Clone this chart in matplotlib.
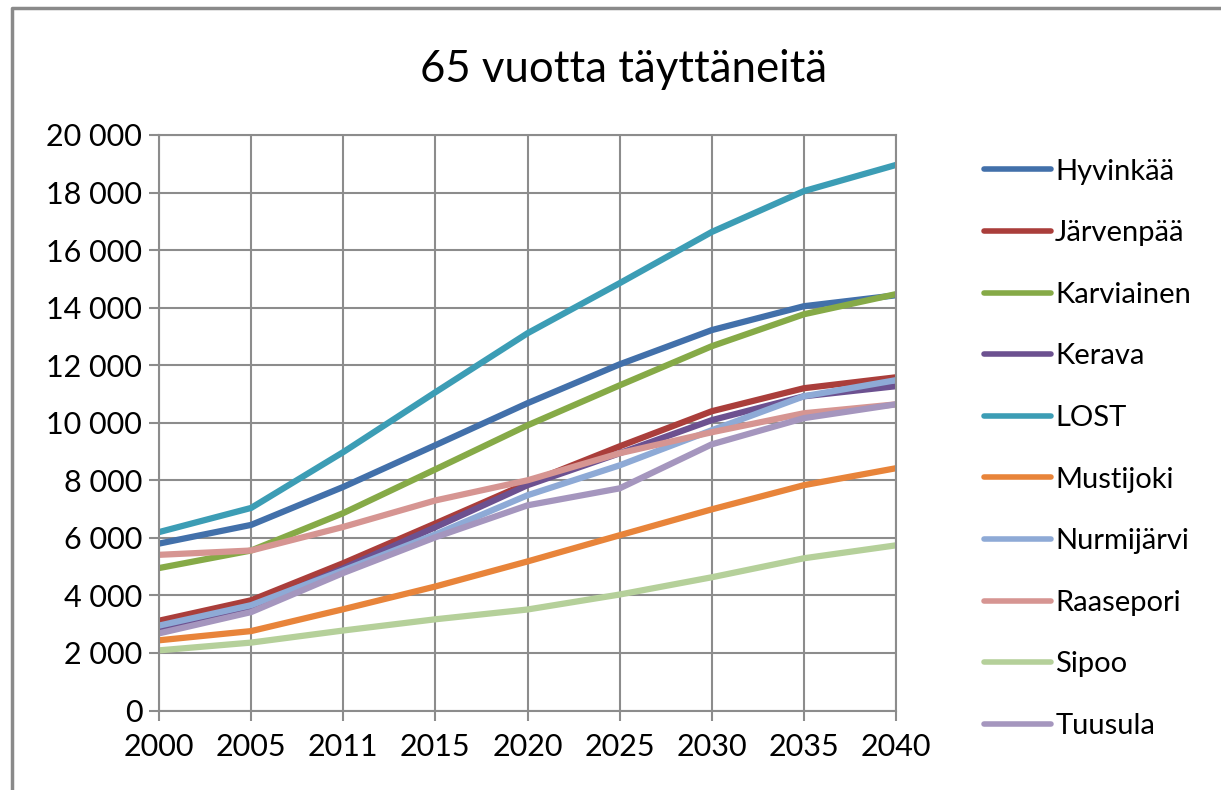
import matplotlib
matplotlib.use('Agg')
import matplotlib.pyplot as plt
from matplotlib.lines import Line2D
from matplotlib.ticker import FuncFormatter, MultipleLocator

years = ['2000', '2005', '2011', '2015', '2020', '2025', '2030', '2035', '2040']

hyvinkaa = [5800, 6450, 7770, 9220, 10680, 12030, 13220, 14050, 14430]
jarvenpaa = [3120, 3830, 5120, 6500, 7900, 9180, 10400, 11200, 11580]
karviainen = [4950, 5560, 6860, 8380, 9910, 11300, 12660, 13770, 14470]
kerava = [2820, 3580, 4940, 6370, 7830, 8940, 10090, 10920, 11270]
lost = [6200, 7040, 8980, 11060, 13110, 14850, 16630, 18050, 18960]
mustijoki = [2440, 2760, 3520, 4310, 5180, 6090, 6990, 7830, 8420]
nurmijarvi = [2950, 3660, 4870, 6120, 7480, 8520, 9740, 10920, 11480]
raasepori = [5410, 5560, 6380, 7300, 8000, 8940, 9670, 10330, 10640]
sipoo = [2090, 2360, 2780, 3170, 3510, 4030, 4630, 5290, 5740]
tuusula = [2680, 3420, 4780, 6020, 7130, 7720, 9250, 10160, 10640]

names = ['Hyvinkää', 'Järvenpää', 'Karviainen', 'Kerava', 'LOST',
         'Mustijoki', 'Nurmijärvi', 'Raasepori', 'Sipoo', 'Tuusula']
series = [hyvinkaa, jarvenpaa, karviainen, kerava, lost,
          mustijoki, nurmijarvi, raasepori, sipoo, tuusula]
colors = ['#4270AA', '#AA3E3B', '#86AA47', '#6C5190', '#3C9DB5',
          '#E8843A', '#8EAAD6', '#D69592', '#B5D09A', '#A596BE']

GRID = '#8C8C8C'
FONT = 'Lato'


def main():
    plt.rcParams['font.family'] = [FONT, 'DejaVu Sans']
    fig = plt.figure(figsize=(12.21, 7.90), dpi=100)
    ax = fig.add_axes([159 / 1221, 1 - 710.5 / 790, (896 - 159) / 1221, (710.5 - 135) / 790])

    x = list(range(len(years)))
    for name, vals, col in zip(names, series, colors):
        ax.plot(x, vals, color=col, lw=4.5, label=name, solid_capstyle='round',
                solid_joinstyle='round')

    ax.set_xlim(0, len(years) - 1)
    ax.set_ylim(0, 20000)
    ax.set_xticks(x)
    ax.set_xticklabels(years)
    ax.yaxis.set_major_locator(MultipleLocator(2000))
    ax.yaxis.set_major_formatter(FuncFormatter(lambda v, _: f'{int(v):,}'.replace(',', ' ')))
    ax.grid(True, color=GRID, lw=1.5)
    ax.set_axisbelow(True)
    for sp in ax.spines.values():
        sp.set_color(GRID)
        sp.set_linewidth(1.5)
    ax.tick_params(axis='both', colors=GRID, length=7, width=1.5,
                   labelcolor='black', labelsize=22)
    ax.tick_params(axis='x', pad=9)
    ax.tick_params(axis='y', pad=5)

    fig.text(624 / 1221, 1 - 70 / 790, '65 vuotta täyttäneitä', ha='center', va='center',
             fontsize=31.5)

    leg = ax.legend(loc='upper left', bbox_to_anchor=(972 / 1221, 1 - 147 / 790),
                    bbox_transform=fig.transFigure, frameon=False, fontsize=21,
                    handlelength=2.3, handletextpad=0.15, labelspacing=1.22,
                    borderaxespad=0)
    for h in leg.get_lines():
        h.set_linewidth(4.0)

    # chart frame (top and left edge visible in the screenshot)
    fig.add_artist(Line2D([12 / 1221, 12 / 1221, 1.0], [0.0, 1 - 8 / 790, 1 - 8 / 790],
                          transform=fig.transFigure, color='#8A8A8A', lw=2.5))

    fig.savefig('out.png', dpi=100)
    plt.close(fig)


if __name__ == '__main__':
    main()
